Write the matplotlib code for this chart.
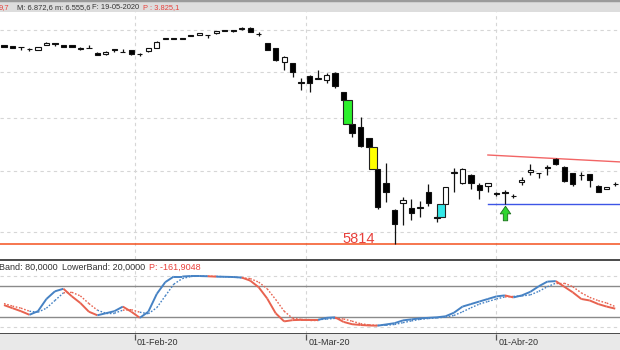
import numpy as np
import matplotlib
matplotlib.use("Agg")
import matplotlib.pyplot as plt
import matplotlib.transforms as mtransforms
from matplotlib.collections import LineCollection
from matplotlib.patches import Rectangle
from matplotlib.path import Path
from matplotlib.ticker import NullLocator

plt.rcParams['font.family'] = ['Liberation Sans', 'DejaVu Sans']

# IBEX 35 daily candles, 10-Jan-2020 .. 23-Apr-2020
opens = [9628, 9604, 9584, 9526, 9519, 9628, 9670, 9628, 9623, 9541,
         9560, 9447, 9400, 9524, 9471, 9507, 9400, 9483, 9567, 9780,
         9805, 9805, 9869, 9874, 9879, 9917, 9995, 9992, 10013, 10058,
         9895, 9670, 9548, 9216, 9193, 8760, 8909, 8840, 8812, 8977,
         8543, 7885, 7825, 7601, 7037, 6787, 6344, 6452, 6368, 6373,
         6644, 6230, 6441, 6965, 6787, 6931, 6758, 6746, 6622, 6632,
         6570, 6804, 6978, 6965, 7062, 7211, 7078, 6961, 6935, 6948,
         6746, 6690, 6770]
highs = [9632, 9610, 9586, 9567, 9591, 9701, 9672, 9632, 9628, 9591,
         9628, 9459, 9483, 9526, 9531, 9519, 9447, 9567, 9726, 9810,
         9810, 9812, 9875, 9930, 9882, 9972, 10000, 9998, 10070, 10065,
         9942, 9680, 9560, 9365, 9200, 8850, 8925, 9038, 8963, 8992,
         8549, 7890, 8025, 7610, 7040, 7139, 6357, 6561, 6528, 6495,
         6775, 6264, 6724, 7049, 7046, 6948, 6797, 6792, 6644, 6673,
         6606, 6901, 7121, 6971, 7108, 7230, 7085, 6970, 6989, 6955,
         6752, 6722, 6809]
lows = [9579, 9555, 9507, 9495, 9507, 9616, 9604, 9579, 9580, 9507,
        9548, 9377, 9390, 9459, 9455, 9388, 9365, 9471, 9555, 9770,
        9775, 9775, 9838, 9868, 9800, 9910, 9965, 9960, 10005, 9950,
        9860, 9500, 9250, 9038, 8886, 8592, 8556, 8825, 8752, 8636,
        8367, 7630, 7439, 7439, 6357, 6478, 5814, 6100, 6185, 6237,
        6408, 6159, 6433, 6644, 6775, 6685, 6518, 6644, 6577, 6441,
        6539, 6758, 6931, 6873, 6931, 7103, 6814, 6746, 6844, 6729,
        6640, 6688, 6741]
closes = [9591, 9567, 9572, 9536, 9579, 9689, 9658, 9591, 9591, 9550,
          9550, 9388, 9471, 9512, 9459, 9405, 9412, 9555, 9713, 9805,
          9780, 9780, 9844, 9924, 9867, 9967, 9970, 9967, 10063, 9957,
          9899, 9507, 9258, 9342, 8999, 8752, 8752, 8850, 8925, 8680,
          8378, 7713, 7458, 7445, 6387, 6644, 6115, 6506, 6291, 6385,
          6452, 6223, 6718, 6975, 7037, 6797, 6673, 6787, 6612, 6622,
          6574, 6844, 7019, 6958, 7070, 7121, 6832, 6775, 6928, 6844,
          6644, 6718, 6778]

# stochastic %K (solid) and %D (dotted)
stoch_k = [43, 37, 31, 24, 31, 55, 70, 75, 60, 47, 30, 23, 27, 31, 40, 30, 18, 30,
           65, 88, 99, 99, 100, 100, 99.5, 98.7, 98.5, 98, 97, 91, 78, 56, 27, 11,
           13.5, 14, 14, 14, 18, 19, 10, 5.5, 4, 3, 2.6, 5, 7.5, 13, 15, 17, 18, 19,
           21, 28, 40, 45, 50, 55, 60, 62, 58, 62, 69, 80, 89, 90, 79, 68, 55, 52,
           45, 40, 36]
stoch_d = [46, 41, 37, 31, 29, 37, 52, 67, 68, 61, 46, 33, 27, 27, 33, 34, 29, 26,
           38, 61, 84, 95, 99, 100, 99.5, 99.4, 98.5, 98, 96.5, 95, 88, 75, 54, 31,
           17, 15, 14.5, 14.5, 15.5, 17, 15.7, 11.5, 6.5, 4.2, 3.2, 3.5, 5, 8.5, 12,
           15, 16.7, 18, 19.3, 22.7, 29.7, 37.7, 45, 50, 55, 59, 60, 61, 63, 70, 79,
           86, 86, 79, 67, 58, 51.7, 47, 40]
upper_band = 80
lower_band = 20

date_ticks = [15.4, 35.6, 58.0]
date_labels = ["01-Feb-20", "01-Mar-20", "01-Abr-20"]
price_grid = [6000, 7000, 8000, 9000, 10000]

gap_start = [40, 43, 51]
gap_colors = ["#2cf02c", "#ffff00", "#33e8e8"]

support_level = 5814
signal_idx = [59]
res_x = [57, 73]
res_y = [7290, 7160]
sup_x = [57, 73]
sup_y = [6436, 6436]

W, H = 620, 350
RED = "#e8413c"
DARK = "#333333"
GRID = "#d6d6d6"


def box(top, bottom):
    return [0, 1 - bottom / H, 1, (bottom - top) / H]


def bare(a):
    a.set_xticks([])
    a.set_yticks([])
    for s in a.spines.values():
        s.set_visible(False)


fig = plt.figure(figsize=(W / 100, H / 100), dpi=100)
head_ax = fig.add_axes(box(0, 12))
ax = fig.add_axes(box(12, 259))
sto_ax = fig.add_axes(box(260, 334))
date_ax = fig.add_axes(box(334, 350))

xlim = (-0.47, 72.56)

# --- header strip
bare(head_ax)
head_ax.set_facecolor("#dddddd")
head_ax.axhline(1, color="#9a9a9a", lw=2.5)
for txt, px, col in [("9,7", -1, RED), ("M: 6.872,6", 17, DARK), ("m: 6.555,6", 55, DARK),
                     ("F: 19-05-2020", 92, DARK), ("P : 3.825,1", 143, RED)]:
    head_ax.text(px / W, 0.4, txt, transform=head_ax.transAxes, fontsize=5.4,
                 color=col, va="center", ha="left")

# --- price panel
o = np.array(opens, float)
c = np.array(closes, float)
x = np.arange(len(o))
up = c >= o
body_lo = np.minimum(o, c)
body_hi = np.maximum(o, c)

ax.set_yscale("log")
ax.set_ylim(5604, 10466)
ax.set_xlim(*xlim)
bare(ax)
ax.yaxis.set_minor_locator(NullLocator())
for p in price_grid:
    ax.axhline(p, color=GRID, lw=0.8, ls=(0, (3, 3)), zorder=0)
for t in date_ticks:
    ax.axvline(t, color=GRID, lw=0.8, ls=(0, (3, 3)), zorder=0)

ax.vlines(x, lows, highs, color="#111111", lw=0.9, zorder=2)
ax.bar(x, body_hi - body_lo, bottom=body_lo, width=0.62,
       color=np.where(up, "white", "black"), edgecolor="#111111", lw=0.8, zorder=3)

# gap highlights
for i, col in zip(gap_start, gap_colors):
    if body_lo[i] > body_hi[i + 1]:
        lo, hi = body_hi[i + 1], body_lo[i]
    else:
        lo, hi = body_hi[i], body_lo[i + 1]
    ax.add_patch(Rectangle((i - 0.05, lo), 1.0, hi - lo, facecolor=col,
                           edgecolor="#222222", lw=0.8, zorder=4))

# support at the crash low
low_idx = int(np.argmin(lows))
ax.axhline(support_level, color="#f4511e", lw=1.1, zorder=1)
ax.text(low_idx - 2.3, support_level * 1.004, str(support_level), color=RED,
        fontsize=10.5, ha="right", va="baseline")

# trend channel
ax.plot(res_x, res_y, color="#f26565", lw=1.0, zorder=1)
ax.plot(sup_x, sup_y, color="#3d55e6", lw=1.0, zorder=1)

# buy signal arrow
arrow = Path([(0, 1), (0.72, -0.05), (0.3, -0.05), (0.3, -1), (-0.3, -1),
              (-0.3, -0.05), (-0.72, -0.05), (0, 1)], closed=True)
shift = mtransforms.offset_copy(ax.transData, fig=fig, y=-6.6, units="points")
ax.plot(signal_idx, [lows[i] for i in signal_idx], marker=arrow, markersize=10.5,
        color="#2fd52f", markeredgecolor="#1a6e1a", markeredgewidth=0.6,
        ls="none", transform=shift, zorder=5)

# --- stochastic panel
sto_ax.set_xlim(*xlim)
sto_ax.set_ylim(-13.7, 131.4)
sto_ax.set_xticks([])
sto_ax.set_yticks([])
for s in ["left", "right"]:
    sto_ax.spines[s].set_visible(False)
for s in ["top", "bottom"]:
    sto_ax.spines[s].set_color("#4a4a4a")
    sto_ax.spines[s].set_linewidth(1.4)
for lvl in (0, 100):
    sto_ax.axhline(lvl, color=GRID, lw=0.8, ls=(0, (3, 3)), zorder=0)
for t in date_ticks:
    sto_ax.axvline(t, color=GRID, lw=0.8, ls=(0, (3, 3)), zorder=0)
sto_ax.axhline(upper_band, color="#8a8a8a", lw=1.0, zorder=1)
sto_ax.axhline(lower_band, color="#8a8a8a", lw=1.0, zorder=1)

k = np.array(stoch_k, float)
d = np.array(stoch_d, float)
seg_cols = np.where(k[1:] >= d[1:], "#4682c4", "#e8624f")
k_segs = np.stack([np.column_stack([x[:-1], k[:-1]]), np.column_stack([x[1:], k[1:]])], axis=1)
d_segs = np.stack([np.column_stack([x[:-1], d[:-1]]), np.column_stack([x[1:], d[1:]])], axis=1)
sto_ax.add_collection(LineCollection(d_segs, colors=seg_cols, linewidths=1.0,
                                     linestyles=(0, (1.2, 1.2)), zorder=2))
sto_ax.add_collection(LineCollection(k_segs, colors=seg_cols, linewidths=1.4, zorder=3))

for txt, px, col in [("Band: 80,0000", -1, DARK), ("LowerBand: 20,0000", 62, DARK),
                     ("P: -161,9048", 149, RED)]:
    sto_ax.text(px / W, (334 - 267) / 74, txt, transform=sto_ax.transAxes,
                fontsize=6.5, color=col, va="center", ha="left")

# --- date strip
date_ax.set_xlim(*xlim)
date_ax.set_ylim(0, 1)
bare(date_ax)
date_ax.set_facecolor("#e9e9e9")
date_ax.vlines(date_ticks, 0.62, 1, color="#555555", lw=0.9)
for t, lab in zip(date_ticks, date_labels):
    date_ax.annotate(lab, (t, 0.44), xytext=(1.5, 0), textcoords="offset points",
                     fontsize=6.5, color=DARK, ha="left", va="center")

fig.savefig("out.png", dpi=100)
